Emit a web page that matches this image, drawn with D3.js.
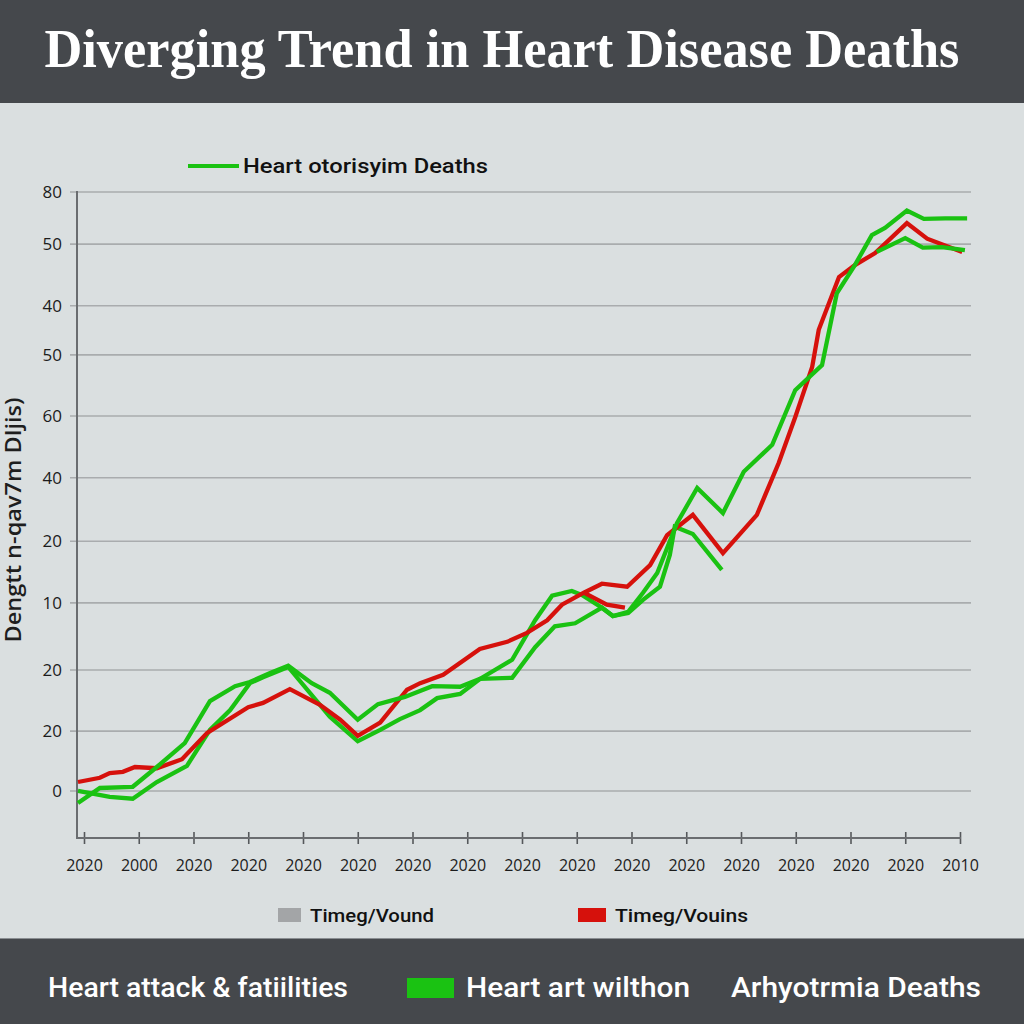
<!DOCTYPE html>
<html>
<head>
<meta charset="utf-8">
<script src="https://cdn.jsdelivr.net/npm/d3@7"></script>
<style>
  html, body { margin: 0; padding: 0; background: #dadfe0; }
  svg { display: block; }
</style>
</head>
<body>
<div id="chart"></div>
<script>
// x positions are in tick units (0 = first tick), values in chart units
const xTickLabels = ['2020', '2000', '2020', '2020', '2020', '2020', '2020', '2020', '2020',
                     '2020', '2020', '2020', '2020', '2020', '2020', '2020', '2010'];
const yTickPos = [0, 10, 20.2, 31.4, 41.7, 52.3, 62.6, 72.8, 81, 91.3, 100];
const yTickLabels = ['0', '20', '20', '10', '20', '40', '60', '50', '40', '50', '80'];

const redMain = [[-0.11,1.5],[0.29,2.2],[0.47,3.0],[0.71,3.2],[0.93,4.0],[1.33,3.8],[1.79,5.3],
  [2.25,9.7],[3.0,14.0],[3.27,14.7],[3.76,17.0],[4.31,14.4],[4.68,11.9],[5.0,9.2],[5.41,11.4],
  [5.9,16.9],[6.14,18.0],[6.56,19.4],[7.23,23.7],[7.73,24.9],[8.09,26.4],[8.46,28.5],[8.73,31.1],
  [9.13,33.1],[9.46,34.6],[9.92,34.1],[10.34,37.7],[10.65,42.7],[11.12,46.1],[11.67,39.7],
  [12.29,46.1],[12.69,54.8],[12.99,62.4],[13.3,70.8],[13.42,77.0],[13.79,85.8],[14.08,87.8],
  [14.45,89.8],[15.03,94.8],[15.4,92.2],[16.04,90.0]];
const redStub = [[9.13,33.1],[9.55,31.1],[9.88,30.6]];

const greenA = [[-0.11,-2.0],[0.29,0.5],[0.89,0.7],[1.33,4.0],[1.84,8.0],[2.3,15.0],[2.76,17.5],
  [3.03,18.2],[3.4,19.7],[3.73,20.9],[4.16,18.0],[4.49,16.4],[5.0,11.9],[5.37,14.5],[5.86,15.7],
  [6.36,17.5],[6.87,17.4],[7.23,18.7],[7.82,18.9],[8.24,24.0],[8.6,27.5],[8.97,28.0],[9.46,30.6],
  [9.66,29.2],[9.94,29.9],[10.21,33.1],[10.47,36.4],[10.83,44.7],[11.2,50.6],[11.67,46.4],
  [12.05,53.3],[12.57,57.8],[12.99,66.9],[13.48,71.1],[13.75,83.1],[14.08,87.8],[14.39,92.8],
  [14.63,94.0],[15.03,96.9],[15.34,95.5],[15.73,95.6],[16.13,95.6]];
const greenB = [[-0.11,0],[0.47,-1.0],[0.89,-1.3],[1.33,1.5],[1.88,4.2],[2.3,10.2],[2.67,13.5],
  [3.03,18.0],[3.27,19.0],[3.73,20.7],[4.49,12.4],[5.0,8.3],[5.41,10.2],[5.77,12.0],[6.14,13.5],
  [6.45,15.5],[6.87,16.2],[7.23,18.7],[7.82,21.9],[8.24,28.5],[8.55,32.6],[8.91,33.4],[9.1,32.7],
  [9.46,30.6],[9.66,29.2],[9.94,29.7],[10.21,31.9],[10.52,34.1],[10.7,39.4],[10.79,44.1],
  [11.12,42.9],[11.65,36.9]];
const greenStub = [[14.48,90.0],[15.0,92.3],[15.32,90.7],[15.67,90.8],[16.09,90.3]];

const width = 1024, height = 1024;
const RED = '#d6110c', GREEN = '#1ac212', DARK = '#45484c';

const svg = d3.select('#chart').append('svg')
    .attr('width', width)
    .attr('height', height);

svg.append('rect').attr('width', width).attr('height', height).attr('fill', '#dadfe0');

// Header band
svg.append('rect').attr('x', 0).attr('y', 0).attr('width', width).attr('height', 103).attr('fill', DARK);
svg.append('text')
    .attr('x', 502).attr('y', 67)
    .attr('text-anchor', 'middle')
    .attr('fill', '#fff')
    .attr('font-family', '"Liberation Serif", serif')
    .attr('font-weight', 'bold')
    .attr('font-size', 55)
    .attr('textLength', 915)
    .attr('lengthAdjust', 'spacingAndGlyphs')
    .text('Diverging Trend in Heart Disease Deaths');

// Footer band
svg.append('rect').attr('x', 0).attr('y', 938).attr('width', width).attr('height', 86).attr('fill', DARK);
svg.append('line').attr('x1', 0).attr('x2', width).attr('y1', 938.5).attr('y2', 938.5)
    .attr('stroke', '#8a8e92').attr('stroke-width', 1);

const x = d3.scaleLinear().domain([0, 16]).range([84, 960]);
const y = d3.scaleLinear().domain([-7.85, 100]).range([838, 192]);

// Gridlines
svg.append('g')
    .selectAll('line')
    .data(yTickPos)
    .join('line')
    .attr('x1', 70).attr('x2', 971)
    .attr('y1', d => y(d)).attr('y2', d => y(d))
    .attr('stroke', '#a9acae')
    .attr('stroke-width', 1.6);

// Y axis labels
const yAxis = svg.append('g')
    .attr('transform', 'translate(62,0)')
    .call(d3.axisLeft(y).tickValues(yTickPos).tickFormat((d, i) => yTickLabels[i]).tickSize(0).tickPadding(0));
yAxis.select('.domain').remove();
yAxis.selectAll('text')
    .attr('font-family', '"Open Sans", sans-serif')
    .attr('font-size', 17)
    .attr('fill', '#1c1c1c');

// Left axis line
svg.append('line').attr('x1', 77).attr('x2', 77).attr('y1', 191).attr('y2', 839)
    .attr('stroke', '#6a6d70').attr('stroke-width', 2);

// X axis
const xAxis = svg.append('g')
    .attr('transform', 'translate(0,838)')
    .call(d3.axisBottom(x).tickValues(d3.range(17)).tickFormat((d, i) => xTickLabels[i]).tickSize(6).tickPadding(16));
xAxis.select('.domain').remove();
xAxis.selectAll('.tick line').attr('y1', -6).attr('y2', 6).attr('stroke', '#55585b').attr('stroke-width', 1.6);
xAxis.selectAll('text')
    .attr('font-family', '"Open Sans", sans-serif')
    .attr('font-size', 16)
    .attr('fill', '#1c1c1c');
svg.append('line').attr('x1', 77).attr('x2', 961).attr('y1', 838).attr('y2', 838)
    .attr('stroke', '#6a6d70').attr('stroke-width', 2);

// Y axis title
svg.append('text')
    .attr('transform', 'translate(21,520) rotate(-90)')
    .attr('text-anchor', 'middle')
    .attr('fill', '#1e1e1e')
    .attr('font-family', '"Open Sans", sans-serif')
    .attr('font-weight', 600)
    .attr('font-size', 21)
    .attr('textLength', 245)
    .attr('lengthAdjust', 'spacingAndGlyphs')
    .text('Dengtt n-qav7m Dljis)');

// Lines
const line = d3.line().x(d => x(d[0])).y(d => y(d[1]));
const series = [
  { data: greenB, color: GREEN },
  { data: redMain, color: RED },
  { data: redStub, color: RED },
  { data: greenA, color: GREEN },
  { data: greenStub, color: GREEN }
];
svg.append('g')
    .selectAll('path')
    .data(series)
    .join('path')
    .attr('d', d => line(d.data))
    .attr('fill', 'none')
    .attr('stroke', d => d.color)
    .attr('stroke-width', 4.3)
    .attr('stroke-linejoin', 'miter')
    .attr('stroke-linecap', 'butt');

// Top legend
svg.append('line').attr('x1', 188).attr('x2', 239).attr('y1', 166).attr('y2', 166)
    .attr('stroke', GREEN).attr('stroke-width', 4);
svg.append('text')
    .attr('x', 243).attr('y', 173)
    .attr('fill', '#111')
    .attr('font-family', 'Roboto, sans-serif')
    .attr('font-weight', 500)
    .attr('font-size', 20)
    .attr('textLength', 245)
    .attr('lengthAdjust', 'spacingAndGlyphs')
    .text('Heart otorisyim Deaths');

// Bottom legend (light area)
const legend1 = [
  { x: 278, color: '#a3a5a7', label: 'Timeg/Vound', w: 124 },
  { x: 578, color: RED, label: 'Timeg/Vouins', w: 133 }
];
const lg = svg.append('g').selectAll('g').data(legend1).join('g');
lg.append('rect')
    .attr('x', d => d.x).attr('y', 908)
    .attr('width', d => d.color === RED ? 28 : 23).attr('height', 14)
    .attr('fill', d => d.color);
lg.append('text')
    .attr('x', d => d.x + (d.color === RED ? 37 : 32)).attr('y', 922)
    .attr('fill', '#111')
    .attr('font-family', 'Roboto, sans-serif')
    .attr('font-weight', 500)
    .attr('font-size', 19)
    .attr('textLength', d => d.w)
    .attr('lengthAdjust', 'spacingAndGlyphs')
    .text(d => d.label);

// Footer legend
const footer = [
  { x: 48, label: 'Heart attack & fatiilities', w: 300 },
  { x: 466, label: 'Heart art wilthon', w: 224 },
  { x: 731, label: 'Arhyotrmia Deaths', w: 250 }
];
svg.append('rect').attr('x', 407).attr('y', 978).attr('width', 47).attr('height', 20).attr('fill', GREEN);
svg.append('g').selectAll('text').data(footer).join('text')
    .attr('x', d => d.x).attr('y', 997)
    .attr('fill', '#fff')
    .attr('font-family', 'Roboto, sans-serif')
    .attr('font-weight', 500)
    .attr('font-size', 27)
    .attr('textLength', d => d.w)
    .attr('lengthAdjust', 'spacingAndGlyphs')
    .text(d => d.label);
</script>
</body>
</html>
